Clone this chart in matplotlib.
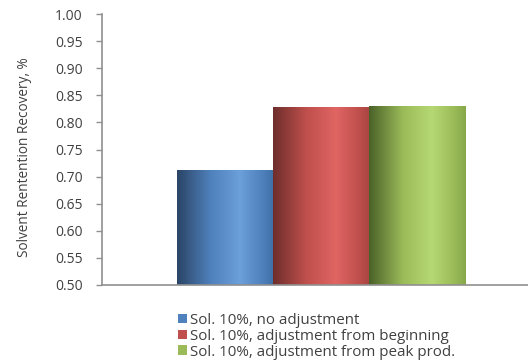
import numpy as np
import matplotlib
matplotlib.use('Agg')
import matplotlib.pyplot as plt
from matplotlib.colors import LinearSegmentedColormap
from matplotlib.patches import Patch

# Solvent retention recovery for the three solvent-adjustment cases
labels = ['Sol. 10%, no adjustment',
          'Sol. 10%, adjustment from beginning',
          'Sol. 10%, adjustment from peak prod.']
recovery = [0.712, 0.828, 0.831]
base_colors = ['#4F81BD', '#C0504D', '#9BBB59']
dark_colors = ['#2B4566', '#6E2E2C', '#4A6128']
light_colors = ['#6CA0DA', '#E06563', '#B6D874']
edge_colors = ['#416FA6', '#A84442', '#86A84A']

yticks = np.arange(0.50, 1.001, 0.05)

plt.rcParams['font.family'] = ['Open Sans', 'DejaVu Sans']

fig = plt.figure(figsize=(5.28, 3.6), dpi=100)
ax = fig.add_axes([102 / 528, 75 / 360, 426 / 528, 271 / 360])

xpos = np.arange(len(recovery)) - 1
width = 1.0
grad = np.linspace(0, 1, 256).reshape(1, -1)
for x, v, dk, lt, bc, ec in zip(xpos, recovery, dark_colors, light_colors,
                                base_colors, edge_colors):
    bar = ax.bar(x, v - 0.5, width=width, bottom=0.5, color='none',
                 edgecolor='none', zorder=2)[0]
    # horizontal shading: dark left edge, highlight right of centre
    cmap = LinearSegmentedColormap.from_list(
        'shade', [(0, dk), (0.35, bc), (0.65, lt), (0.88, bc), (1, ec)])
    im = ax.imshow(grad, cmap=cmap, aspect='auto', zorder=2,
                   extent=[x - width / 2, x + width / 2, 0.5, v])
    im.set_clip_path(bar)

ax.set_xlim(-2.281, 2.156)
ax.set_ylim(0.5, 1.0)
ax.set_yticks(yticks)
ax.set_yticklabels([f'{t:.2f}' for t in yticks])
ax.set_xticks([])
ax.tick_params(axis='y', direction='out', length=4, width=1, color='#909090',
               labelcolor='#404040', labelsize=10, pad=10)

for side in ['top', 'right']:
    ax.spines[side].set_visible(False)
for side in ['left', 'bottom']:
    ax.spines[side].set_color('#909090')
    ax.spines[side].set_linewidth(1.2)

ax.set_ylabel('Solvent Rentention Recovery, %', fontsize=9.8, color='#404040')
ax.yaxis.set_label_coords(-70 / 426, 0.47)

handles = [Patch(facecolor=c, edgecolor='none') for c in base_colors]
fig.legend(handles, labels, loc='upper left', bbox_to_anchor=(178 / 528, 1 - 313 / 360),
           frameon=False, fontsize=10.9, labelcolor='#404040',
           handlelength=0.6, handleheight=0.6, handletextpad=0.2,
           labelspacing=0.05, borderaxespad=0, borderpad=0)

fig.savefig('out.png', dpi=100)
